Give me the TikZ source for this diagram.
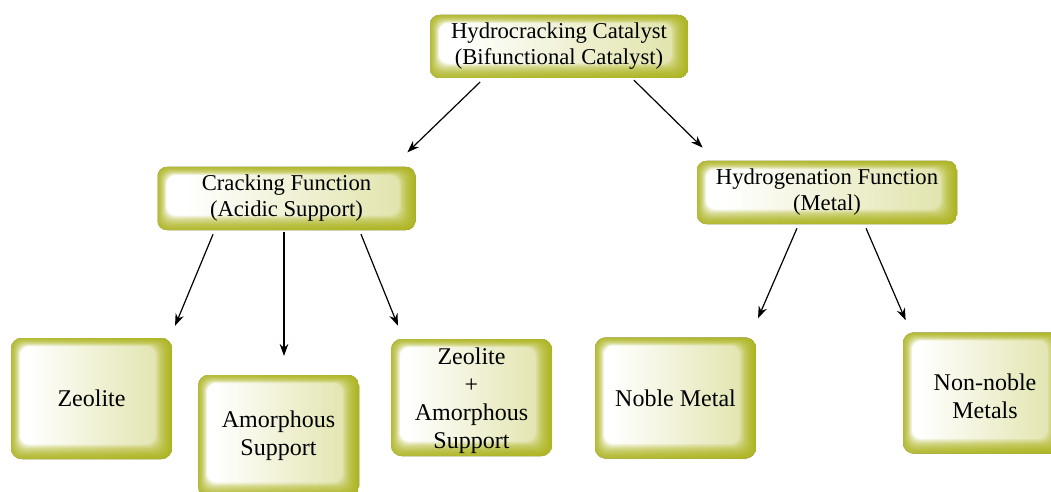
\documentclass[tikz,border=0pt]{standalone}
\usepackage{fontspec}
\setmainfont{Liberation Serif}
\usetikzlibrary{arrows.meta,calc}
\definecolor{olv}{RGB}{166,174,8}
\colorlet{olvpale}{olv!55}
\pgfdeclarehorizontalshading{boxsh}{100bp}{color(0bp)=(white); color(30bp)=(white); color(100bp)=(olvpale)}
\tikzset{
  box/.style={rounded corners=7pt, align=center, inner sep=0pt,
    font=\fontsize{17pt}{19.5pt}\selectfont,
    path picture={
      \fill[shading=boxsh]
        (path picture bounding box.south west) rectangle (path picture bounding box.north east);
      \foreach \i in {1,...,12}{
        \fill[olv, opacity=0.13, even odd rule, rounded corners=7pt]
          (path picture bounding box.south west) rectangle (path picture bounding box.north east)
          ([shift={(\i*0.55pt,-\i*0.5pt)}]path picture bounding box.north west) rectangle
          ([shift={(-\i*1.0pt,\i*0.9pt)}]path picture bounding box.south east);
      }
    }},
  wide/.style={box, minimum width=193.5pt, minimum height=47.25pt},
  leaf/.style={box, minimum width=120.75pt, minimum height=90.75pt, rounded corners=8pt,
    font=\fontsize{18pt}{21pt}\selectfont},
  leaftext/.style={font=\fontsize{18pt}{21pt}\selectfont, align=center, inner sep=0pt},
  arr/.style={-{Stealth[length=9pt,width=6.5pt]}, line width=0.9pt, black}
}
\begin{document}
\begin{tikzpicture}[x=0.75pt,y=-0.75pt]
\useasboundingbox (0,0) rectangle (1051,492);
\node[wide] (top) at (559,46.5) {Hydrocracking Catalyst\\(Bifunctional Catalyst)};
\node[wide] (crack) at (286.5,198.5) {Cracking Function\\(Acidic Support)};
\node[wide, minimum width=195pt] (hydro) at (827,192.5) {Hydrogenation Function\\(Metal)};
\node[leaf] (zeo) at (91.5,398.5) {Zeolite};
\node[leaf, minimum height=91.5pt] (amor) at (278.5,436) {Amorphous\\Support};
\node[leaf, minimum height=87.75pt] (za) at (471.5,397.5) {};
\node[leaftext] (zatxt) at (471.5,401) {Zeolite\\+\\Amorphous\\Support};
\node[leaf] (noble) at (675.5,398) {Noble Metal};
\node[leaf] (nonnoble) at (983.5,393) {};
\node[leaftext] (nonnobletxt) at (985,396) {Non-noble\\Metals};
\draw[arr, shorten <=4pt, shorten >=15.5pt] ($(top.south)+(-75,0)$) -- ($(crack.north)+(106,0)$);
\draw[arr, shorten <=2pt, shorten >=14pt] ($(top.south)+(73,0)$) -- ($(hydro.north)+(-111,0)$);
\draw[arr, shorten <=3.2pt, shorten >=9.7pt] ($(crack.south)+(-71.8,0)$) -- ($(zeo.north)+(78.6,0)$);
\draw[arr, shorten <=1.5pt, shorten >=14.5pt] ($(crack.south)+(-2.5,0)$) -- ($(crack.south)+(-2.5,145)$);
\draw[arr, shorten <=3.2pt, shorten >=10.5pt] ($(crack.south)+(72.9,0)$) -- ($(za.north)+(-68.3,0)$);
\draw[arr, shorten <=3.3pt, shorten >=15.5pt] ($(hydro.south)+(-28.3,0)$) -- ($(noble.north)+(74.3,0)$);
\draw[arr, shorten <=3.3pt, shorten >=9.8pt] ($(hydro.south)+(37.3,0)$) -- ($(nonnoble.north)+(-72.7,0)$);
\end{tikzpicture}
\end{document}
